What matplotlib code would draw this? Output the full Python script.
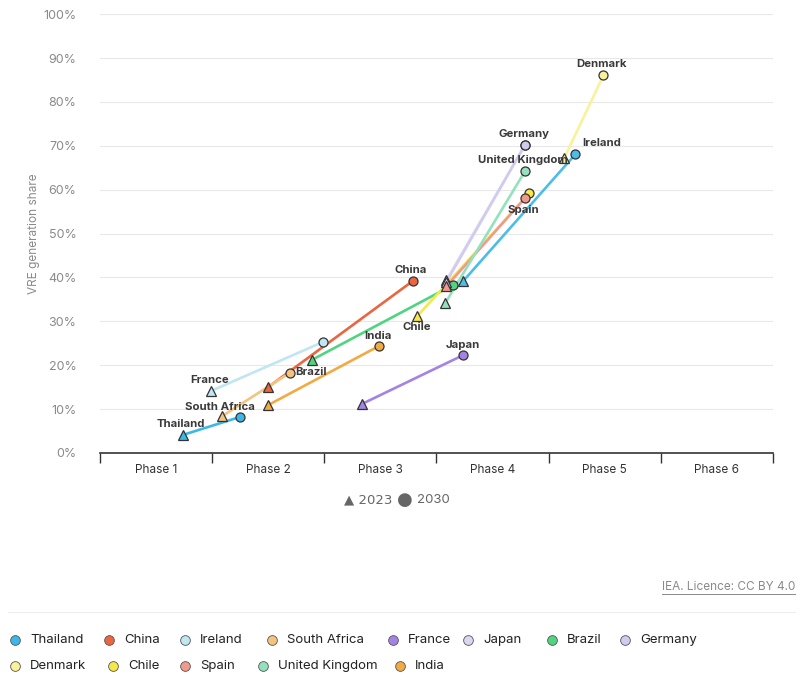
import matplotlib

matplotlib.use("Agg")
import matplotlib.pyplot as plt
from matplotlib.lines import Line2D

plt.rcParams["font.family"] = ["Inter", "DejaVu Sans"]

# x is a continuous phase position (0 = start of Phase 1), y is VRE share in %
countries = ["Thailand", "China", "Ireland", "South Africa", "France", "Japan", "Brazil",
             "Germany", "Denmark", "Chile", "Spain", "United Kingdom", "India"]
colors = ["#3bb8e6", "#ea6640", "#bfe6f2", "#f3c37f", "#a383e3", "#ddd6f2", "#4fd57f",
          "#d3cbef", "#faf29a", "#f6e84a", "#f19a8c", "#94e1bd", "#f2aa42"]
x_2023 = [0.74, 1.50, 0.99, 1.09, 2.34, 3.09, 1.89, 3.09, 4.14, 2.83, 3.09, 3.08, 1.50]
y_2023 = [4.1, 15.0, 14.1, 8.4, 11.2, 39.4, 21.2, 39.0, 67.2, 31.2, 38.0, 34.2, 10.9]
x_2030 = [1.25, 2.79, 1.99, 1.69, 3.24, 3.79, 3.15, 3.79, 4.49, 3.83, 3.79, 3.79, 2.49]
y_2030 = [8.2, 39.2, 25.3, 18.2, 22.3, 70.2, 38.3, 70.2, 86.1, 59.2, 58.1, 64.2, 24.4]

# extra blue trajectory drawn in the chart (not listed in the legend)
extra_color = "#4cbde8"
extra_x = [3.24, 4.24]
extra_y = [39.2, 68.1]

phases = ["Phase 1", "Phase 2", "Phase 3", "Phase 4", "Phase 5", "Phase 6"]
y_ticks = list(range(0, 101, 10))

# (label, anchor: series index or "extra", 0=2023 / 1=2030, dx px, dy px, ha)
labels = [
    ("Thailand", 0, 0, -2, 11, "center"),
    ("South Africa", 3, 0, -2, 9, "center"),
    ("France", 2, 0, -1, 11, "center"),
    ("Brazil", 3, 1, 6, 1, "left"),
    ("India", 12, 1, -1, 10, "center"),
    ("China", 1, 1, -2, 11, "center"),
    ("Chile", 9, 0, -1, -11, "center"),
    ("Japan", 4, 1, -1, 10, "center"),
    ("Spain", 10, 1, -2, -12, "center"),
    ("United Kingdom", 11, 1, -2, 11, "center"),
    ("Germany", 7, 1, -1, 11, "center"),
    ("Ireland", "extra", 1, 7, 11, "left"),
    ("Denmark", 8, 1, -2, 11, "center"),
]

fig = plt.figure(figsize=(8, 6.8), dpi=100)
ax = fig.add_axes([0.125, 0.334, 0.841, 0.645])

for c, x0, y0, x1, y1 in zip(colors, x_2023, y_2023, x_2030, y_2030):
    ax.plot([x0, x1], [y0, y1], color=c, lw=1.9, zorder=2, solid_capstyle="round")
ax.plot(extra_x, extra_y, color=extra_color, lw=1.9, zorder=2)

mk = dict(markeredgecolor="#333333", markeredgewidth=0.9, markersize=6.5, zorder=3,
          linestyle="none")
ax.plot(extra_x[:1], extra_y[:1], marker="^", color=extra_color, **mk)
ax.plot(extra_x[1:], extra_y[1:], marker="o", color=extra_color, **mk)
for c, x0, y0, x1, y1 in zip(colors, x_2023, y_2023, x_2030, y_2030):
    ax.plot([x0], [y0], marker="^", color=c, **mk)
    ax.plot([x1], [y1], marker="o", color=c, **mk)

for text, idx, which, dx, dy, ha in labels:
    if idx == "extra":
        px, py = extra_x[which], extra_y[which]
    else:
        px = (x_2023, x_2030)[which][idx]
        py = (y_2023, y_2030)[which][idx]
    ax.annotate(text, (px, py), xytext=(dx * 0.72, dy * 0.72), textcoords="offset points",
                ha=ha, va="center", fontsize=8.2, fontweight="bold", color="#3a3a3a",
                zorder=4)

ax.set_xlim(0, 6)
ax.set_ylim(0, 100)
ax.set_yticks(y_ticks)
ax.set_yticklabels([f"{t}%" for t in y_ticks])
for t in y_ticks[1:]:
    ax.axhline(t, color="#e8e8e8", lw=0.8, zorder=0)
ax.tick_params(axis="y", length=0, pad=17, labelsize=9, labelcolor="#8a8a8a")
ax.set_xticks(range(7))
ax.set_xticklabels([])
ax.tick_params(axis="x", direction="out", length=7, width=1, color="#333333")
for i, p in enumerate(phases):
    ax.text(i + 0.5, -2.5, p, ha="center", va="top", fontsize=8.5, color="#333333",
            transform=ax.transData)
for s in ["top", "right", "left"]:
    ax.spines[s].set_visible(False)
ax.spines["bottom"].set_color("#333333")
ax.spines["bottom"].set_linewidth(1.2)
ax.set_ylabel("VRE generation share", fontsize=8.5, color="#8a8a8a", labelpad=2)

# marker key
fig.text(0.491, 0.265, "\u25B2 2023", ha="right", va="center", fontsize=9.5, color="#666666",
         family=["DejaVu Sans"])
fig.text(0.496, 0.265, "\u25CF", ha="left", va="center", fontsize=13, color="#666666",
         family=["DejaVu Sans"])
fig.text(0.521, 0.265, "2030", ha="left", va="center", fontsize=9.5, color="#666666")

src = fig.text(0.994, 0.137, "IEA. Licence: CC BY 4.0", ha="right", va="center",
               fontsize=8.5, color="#8a8a8a")
fig.canvas.draw()
bb = src.get_window_extent().transformed(fig.transFigure.inverted())
fig.add_artist(Line2D([bb.x0, bb.x1], [bb.y0 - 0.002, bb.y0 - 0.002], color="#8a8a8a", lw=0.7))
fig.add_artist(Line2D([0.01, 0.994], [0.1, 0.1], color="#eeeeee", lw=0.8))

# country legend
legend_pos = [(15, 640), (109, 640), (185, 640), (272, 640), (393, 640), (468, 640),
              (552, 640), (625, 640), (15, 666), (113, 666), (185, 666), (263, 666),
              (400, 666)]
for name, c, (lx, ly) in zip(countries, colors, legend_pos):
    fx, fy = lx / 800, 1 - ly / 680
    fig.add_artist(Line2D([fx], [fy], marker="o", markersize=7, color=c,
                          markeredgecolor="#555555", markeredgewidth=0.6))
    fig.text(fx + 15 / 800, fy, name, ha="left", va="center", fontsize=9.5, color="#222222")

fig.savefig("out.png", dpi=100)
